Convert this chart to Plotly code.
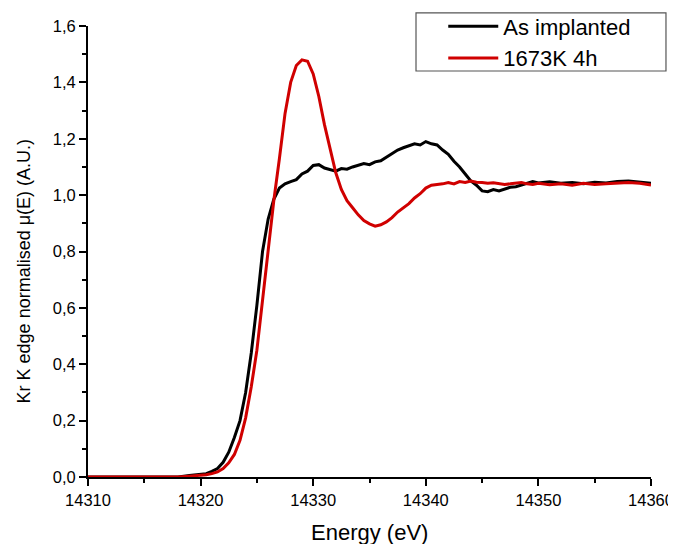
import plotly.graph_objects as go

# energy grid (eV)
energy = [14310, 14311, 14312, 14313, 14314, 14315, 14316, 14317, 14318, 14319,
          14320, 14320.5, 14321, 14321.5, 14322, 14322.5, 14323, 14323.5, 14324, 14324.5,
          14325, 14325.5, 14326, 14326.5, 14327, 14327.5, 14328, 14328.5, 14329, 14329.5,
          14330, 14330.5, 14331, 14331.5, 14332, 14332.5, 14333, 14333.5, 14334, 14334.5,
          14335, 14335.5, 14336, 14336.5, 14337, 14337.5, 14338, 14338.5, 14339, 14339.5,
          14340, 14340.5, 14341, 14341.5, 14342, 14342.5, 14343, 14343.5, 14344, 14344.5,
          14345, 14345.5, 14346, 14346.5, 14347, 14347.5, 14348, 14348.5, 14349, 14349.5,
          14350, 14351, 14352, 14353, 14354, 14355, 14356, 14357, 14358, 14359, 14360]

# As implanted
as_implanted = [0.0, 0.0, 0.0, 0.0, 0.0, 0.0, 0.0, 0.0, 0.0, 0.005,
                0.008, 0.012, 0.02, 0.03, 0.052, 0.088, 0.14, 0.20, 0.30, 0.44,
                0.61, 0.80, 0.915, 0.985, 1.025, 1.04, 1.048, 1.055, 1.075, 1.085,
                1.105, 1.108, 1.096, 1.09, 1.085, 1.094, 1.092, 1.10, 1.105, 1.112,
                1.108, 1.118, 1.122, 1.135, 1.145, 1.16, 1.168, 1.175, 1.182, 1.178,
                1.19, 1.182, 1.178, 1.16, 1.145, 1.12, 1.10, 1.075, 1.05, 1.035,
                1.015, 1.012, 1.02, 1.015, 1.022, 1.028, 1.03, 1.036, 1.04, 1.048,
                1.043, 1.047, 1.042, 1.045, 1.04, 1.046, 1.043, 1.048, 1.05, 1.045, 1.042]

# 1673K 4h
annealed = [0.0, 0.0, 0.0, 0.0, 0.0, 0.0, 0.0, 0.0, 0.0, 0.003,
            0.005, 0.008, 0.012, 0.018, 0.03, 0.05, 0.08, 0.13, 0.21, 0.32,
            0.45, 0.63, 0.82, 0.98, 1.13, 1.29, 1.40, 1.46, 1.48, 1.475,
            1.43, 1.35, 1.25, 1.16, 1.08, 1.02, 0.98, 0.955, 0.93, 0.91,
            0.898, 0.89, 0.895, 0.905, 0.92, 0.94, 0.955, 0.97, 0.99, 1.005,
            1.025, 1.035, 1.038, 1.04, 1.045, 1.04, 1.048, 1.045, 1.05, 1.046,
            1.045, 1.042, 1.044, 1.04, 1.038, 1.04, 1.042, 1.045, 1.04, 1.038,
            1.042, 1.037, 1.04, 1.035, 1.042, 1.038, 1.04, 1.043, 1.045, 1.042, 1.036]

fig = go.Figure()
fig.add_trace(go.Scatter(x=energy, y=as_implanted, mode='lines', name='As implanted',
                         line=dict(color='black', width=3)))
fig.add_trace(go.Scatter(x=energy, y=annealed, mode='lines', name='1673K 4h',
                         line=dict(color='#d00000', width=3)))

font = "Liberation Sans, Arial, sans-serif"
axis_common = dict(showline=True, linecolor='black', linewidth=2,
                   ticks='outside', ticklen=7, tickwidth=2, tickcolor='black',
                   tickfont=dict(size=16.5),
                   showgrid=False, zeroline=False, ticklabeloverflow='allow')

# page body has an 8px margin; plot area kept at x 88-651, y 26-477 of the window
fig.update_layout(
    width=676, height=536,
    margin=dict(l=80, r=33, t=18, b=67, autoexpand=False),
    plot_bgcolor='white', paper_bgcolor='white',
    separators=',.',
    font=dict(family=font, size=18, color='black'),
    showlegend=True,
    legend=dict(x=0.631, y=1.0455, xanchor='left', yanchor='top',
                borderwidth=0, bgcolor='rgba(0,0,0,0)',
                font=dict(size=22), tracegroupgap=0, itemwidth=50),
    xaxis=dict(range=[14310, 14360], dtick=10, tickformat='d',
               minor=dict(dtick=5, ticks='outside', ticklen=4, tickwidth=2, tickcolor='black'),
               **axis_common),
    yaxis=dict(range=[0, 1.6], dtick=0.2, tickformat='.1f',
               minor=dict(dtick=0.1, ticks='outside', ticklen=4, tickwidth=2, tickcolor='black'),
               **axis_common),
    shapes=[dict(type='rect', xref='paper', yref='paper',
                 x0=0.5826, x1=1.0266, y0=0.9002, y1=1.029,
                 line=dict(color='#555555', width=1.2))],
    annotations=[
        dict(text='Energy (eV)', xref='paper', yref='paper', x=0.5, y=-0.124,
             xanchor='center', yanchor='middle', showarrow=False, font=dict(size=22)),
        dict(text='Kr K edge normalised μ(E) (A.U.)', xref='paper', yref='paper',
             x=-0.112, y=0.4557, xanchor='center', yanchor='middle', textangle=-90,
             showarrow=False, font=dict(size=18)),
    ],
)

fig.write_html("out.html")
